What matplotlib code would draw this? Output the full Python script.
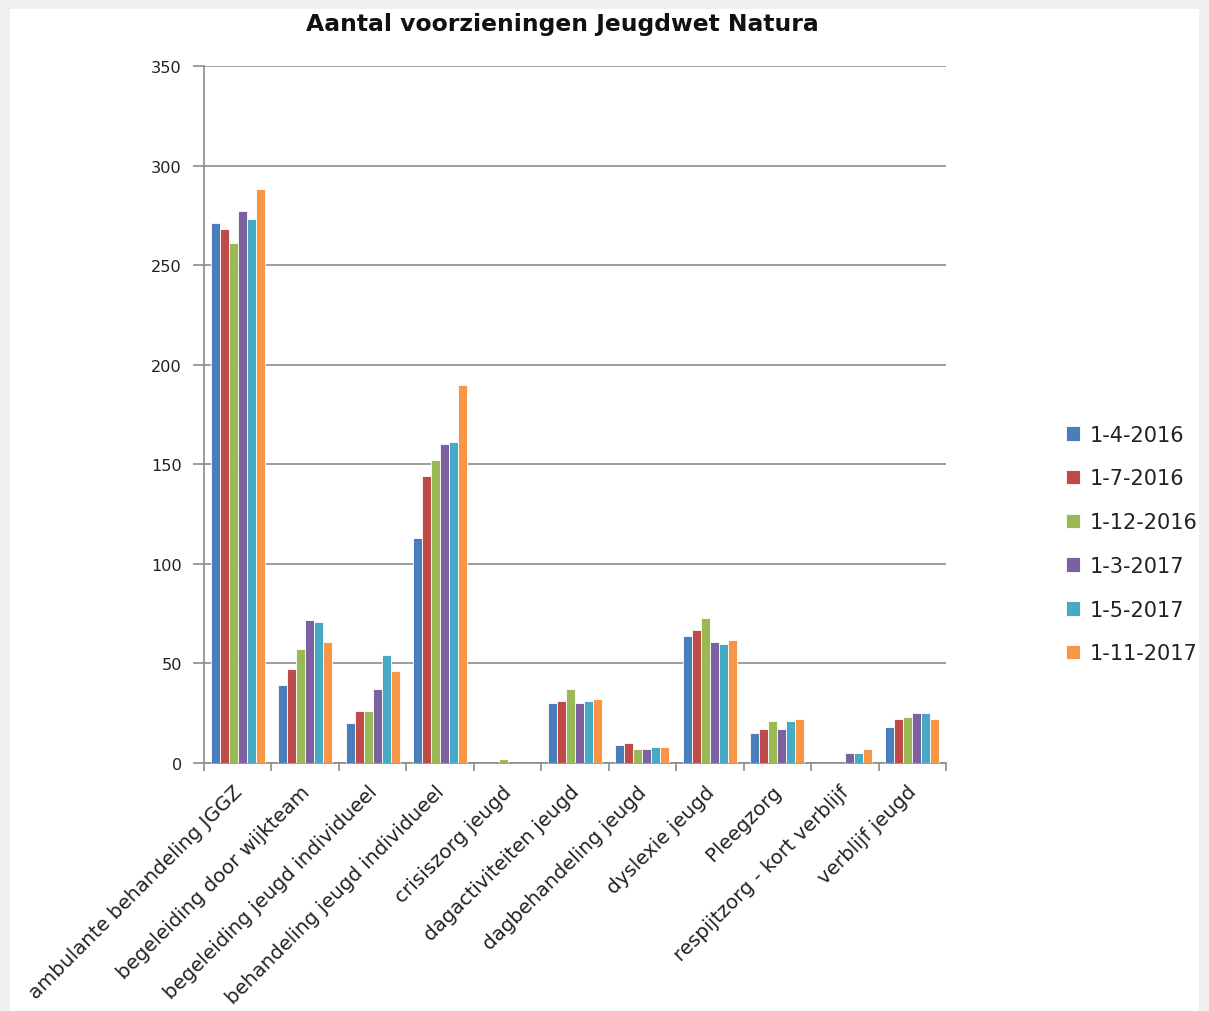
import matplotlib
matplotlib.use("Agg")
import matplotlib.pyplot as plt
import numpy as np
from matplotlib.patches import Rectangle

plt.rcParams['font.family'] = ['DejaVu Sans']

title = "Aantal voorzieningen Jeugdwet Natura"

categories = [
    "ambulante behandeling JGGZ",
    "begeleiding door wijkteam",
    "begeleiding jeugd individueel",
    "behandeling jeugd individueel",
    "crisiszorg jeugd",
    "dagactiviteiten jeugd",
    "dagbehandeling jeugd",
    "dyslexie jeugd",
    "Pleegzorg",
    "respijtzorg - kort verblijf",
    "verblijf jeugd",
]

series_labels = ["1-4-2016", "1-7-2016", "1-12-2016", "1-3-2017", "1-5-2017", "1-11-2017"]

v_2016_04 = [271, 39, 20, 113, 0, 30, 9, 64, 15, 0, 18]
v_2016_07 = [268, 47, 26, 144, 0, 31, 10, 67, 17, 0, 22]
v_2016_12 = [261, 57, 26, 152, 2, 37, 7, 73, 21, 0, 23]
v_2017_03 = [277, 72, 37, 160, 0, 30, 7, 61, 17, 5, 25]
v_2017_05 = [273, 71, 54, 161, 0, 31, 8, 60, 21, 5, 25]
v_2017_11 = [288, 61, 46, 190, 0, 32, 8, 62, 22, 7, 22]

series_values = [v_2016_04, v_2016_07, v_2016_12, v_2017_03, v_2017_05, v_2017_11]
colors = ["#4A7EBB", "#BE4B48", "#98B954", "#7D60A0", "#46AAC5", "#F79646"]

y_ticks = [0, 50, 100, 150, 200, 250, 300, 350]

W, H = 1209, 1012
fig = plt.figure(figsize=(W / 100, H / 100), dpi=100)
fig.patch.set_facecolor("#F0F0F0")
# white chart panel behind everything
fig.patches.append(Rectangle((10 / W, 0), (1199 - 10) / W, 1 - 10 / H,
                             transform=fig.transFigure, facecolor="white",
                             edgecolor="none", zorder=-10))

left, right = 204 / W, 946 / W
bottom, top = 1 - 764 / H, 1 - 67 / H
ax = fig.add_axes([left, bottom, right - left, top - bottom])
ax.set_zorder(2)
ax.set_facecolor("white")

n = len(series_values)
x = np.arange(len(categories))
bw = 1 / 7.5
for i, (vals, lab, col) in enumerate(zip(series_values, series_labels, colors)):
    offs = (i - (n - 1) / 2) * bw
    ax.bar(x + offs, vals, width=bw, color=col, edgecolor="white",
           linewidth=0.6, label=lab, zorder=3)

ax.set_xlim(-0.5, len(categories) - 0.5)
ax.set_ylim(0, 350)
ax.set_yticks(y_ticks)
grid_col = "#8C8C8C"
ax.yaxis.grid(True, color=grid_col, linewidth=1.2, zorder=0)
ax.set_axisbelow(True)

for s in ["top", "right"]:
    ax.spines[s].set_visible(False)
for s in ["left", "bottom"]:
    ax.spines[s].set_color(grid_col)
    ax.spines[s].set_linewidth(1.2)

ax.tick_params(axis="y", length=8, width=1.2, color=grid_col, labelsize=11.6,
               labelcolor="#222222", pad=8)
ax.set_xticks(np.arange(len(categories) + 1) - 0.5)
ax.set_xticklabels([])
ax.tick_params(axis="x", length=6, width=1.2, color=grid_col, direction="out")
for xi, cat in zip(x, categories):
    ax.text(xi - 0.08, -9.5, cat, rotation=45, ha="right", va="top",
            rotation_mode="anchor", fontsize=14.3, color="#222222")

fig.text(562 / W, 1 - 24 / H, title, ha="center", va="center",
         fontsize=16.9, fontweight="bold", color="#111111")

handles, labels = ax.get_legend_handles_labels()
leg = fig.legend(handles, labels, loc="center left",
                 bbox_to_anchor=(1047 / W, 1 - 545 / H), frameon=False,
                 fontsize=15, handlelength=0.7, handleheight=0.7,
                 handletextpad=0.45, labelspacing=1.14)
for t in leg.get_texts():
    t.set_color("#222222")

fig.savefig("out.png", dpi=100, facecolor=fig.get_facecolor())
